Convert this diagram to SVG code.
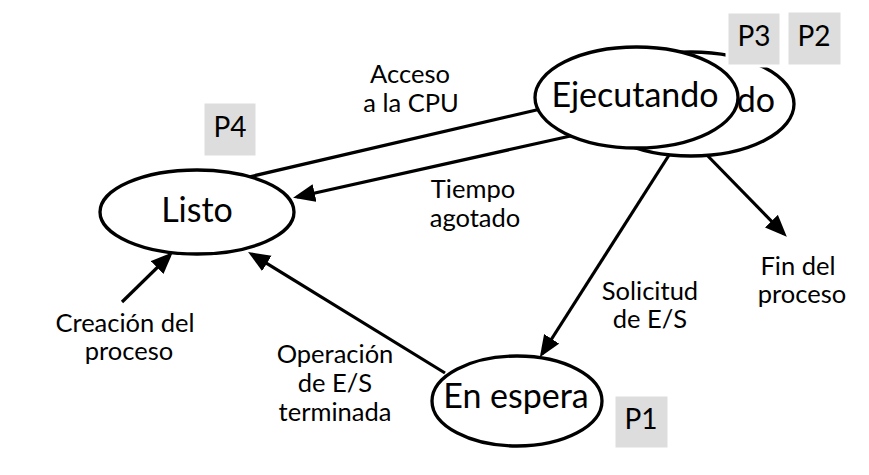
<svg xmlns="http://www.w3.org/2000/svg" width="869" height="475" viewBox="0 0 869 475">
<style>
  .node { fill: #ffffff; stroke: #000000; stroke-width: 3.3; }
  .edge { fill: none; stroke: #000000; stroke-width: 3.2; }
  .ntext { font-family: Lato, "Liberation Sans", sans-serif; font-size: 34px; fill: #000000; text-anchor: middle; }
  .ltext { font-family: Lato, "Liberation Sans", sans-serif; font-size: 25.5px; fill: #000000; text-anchor: middle; }
  .pbox { fill: #dddddd; stroke: #ffffff; stroke-width: 3; }
  .ptext { font-family: Lato, "Liberation Sans", sans-serif; font-size: 28px; fill: #000000; text-anchor: middle; }
</style>
<defs>
  <marker id="arrow" markerUnits="userSpaceOnUse" markerWidth="23" markerHeight="19" refX="18" refY="9" orient="auto">
    <path d="M0,0 L22,9 L0,18 z" fill="#000000"/>
  </marker>
</defs>
<rect width="869" height="475" fill="#ffffff"/>

<g id="connectors">
  <line class="edge" x1="240" y1="179" x2="545" y2="108"/>
  <line class="edge" x1="575" y1="135" x2="297" y2="197" marker-end="url(#arrow)"/>
  <line class="edge" x1="671" y1="152" x2="542" y2="354" marker-end="url(#arrow)"/>
  <line class="edge" x1="702" y1="150" x2="784" y2="234" marker-end="url(#arrow)"/>
  <line class="edge" x1="122" y1="302" x2="170" y2="255" marker-end="url(#arrow)"/>
  <line class="edge" x1="445" y1="373" x2="251.5" y2="254" marker-end="url(#arrow)"/>
</g>

<g id="node-ejecutando-back">
  <ellipse class="node" cx="691" cy="104" rx="103" ry="52"/>
  <text class="ntext" x="775" y="112" style="text-anchor:end">do</text>
</g>
<g id="node-ejecutando">
  <ellipse class="node" cx="636.5" cy="97.5" rx="101.5" ry="50.5"/>
  <text class="ntext" x="635" y="107">Ejecutando</text>
</g>
<g id="node-listo">
  <ellipse class="node" cx="197" cy="212" rx="97" ry="42"/>
  <text class="ntext" x="197" y="222">Listo</text>
</g>
<g id="node-espera">
  <ellipse class="node" cx="517" cy="401" rx="85" ry="45"/>
  <text class="ntext" x="516" y="408">En espera</text>
</g>

<g id="p3">
  <rect class="pbox" x="727" y="12" width="54" height="54"/>
  <text class="ptext" x="754" y="46">P3</text>
</g>
<g id="p2">
  <rect class="pbox" x="787" y="11" width="55" height="55"/>
  <text class="ptext" x="814" y="46">P2</text>
</g>
<g id="p4">
  <rect class="pbox" x="203" y="102" width="54" height="55"/>
  <text class="ptext" x="230" y="137">P4</text>
</g>
<g id="p1">
  <rect class="pbox" x="614" y="395" width="55" height="54"/>
  <text class="ptext" x="641" y="429">P1</text>
</g>

<g id="labels">
  <text class="ltext" x="410" y="83">Acceso</text>
  <text class="ltext" x="411" y="112">a la CPU</text>
  <text class="ltext" x="473" y="198">Tiempo</text>
  <text class="ltext" x="475" y="227">agotado</text>
  <text class="ltext" x="125" y="332">Creación del</text>
  <text class="ltext" x="129" y="360">proceso</text>
  <text class="ltext" x="335" y="363">Operación</text>
  <text class="ltext" x="335" y="392">de E/S</text>
  <text class="ltext" x="335" y="421">terminada</text>
  <text class="ltext" x="650" y="300">Solicitud</text>
  <text class="ltext" x="650" y="328">de E/S</text>
  <text class="ltext" x="798" y="275">Fin del</text>
  <text class="ltext" x="802" y="303">proceso</text>
</g>
</svg>
